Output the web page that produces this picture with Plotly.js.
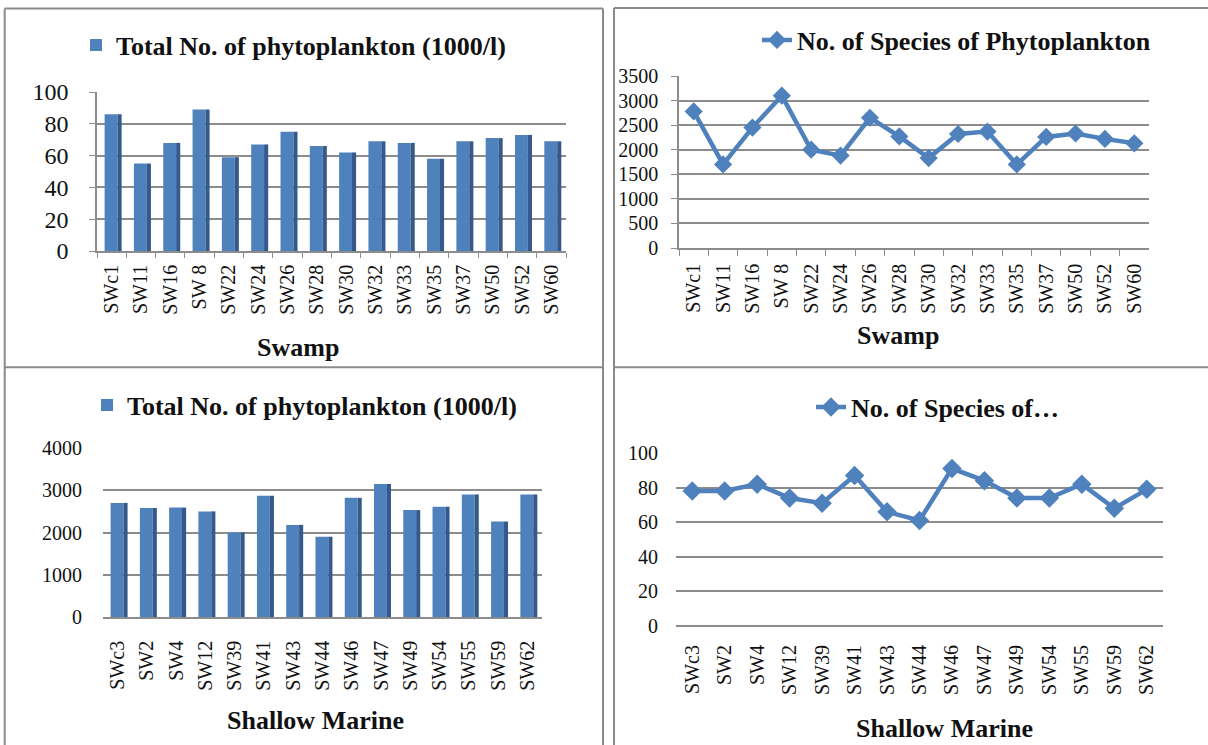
<!DOCTYPE html>
<html>
<head>
<meta charset="utf-8">
<script src="https://cdn.plot.ly/plotly-3.0.1.min.js"></script>
<style>
  html, body { margin: 0; padding: 0; background: #fff; }
  #chart { width: 1208px; height: 745px; }
</style>
</head>
<body>
<div id="chart"></div>
<script>
// Sampling stations
const swampSites = ['SWc1', 'SW11', 'SW16', 'SW 8', 'SW22', 'SW24', 'SW26', 'SW28',
                    'SW30', 'SW32', 'SW33', 'SW35', 'SW37', 'SW50', 'SW52', 'SW60'];
const marineSites = ['SWc3', 'SW2', 'SW4', 'SW12', 'SW39', 'SW41', 'SW43', 'SW44',
                     'SW46', 'SW47', 'SW49', 'SW54', 'SW55', 'SW59', 'SW62'];

// Swamp
const swampTotal = [86, 55, 68, 89, 59, 67, 75, 66, 62, 69, 68, 58, 69, 71, 73, 69];
const swampSpecies = [2780, 1700, 2450, 3100, 2000, 1880, 2650, 2270,
                      1830, 2320, 2370, 1700, 2260, 2330, 2220, 2130];

// Shallow marine
const marineTotal = [2700, 2580, 2590, 2500, 2000, 2870, 2180, 1900,
                     2820, 3150, 2530, 2610, 2900, 2260, 2900];
const marineSpecies = [78, 78, 82, 74, 71, 87, 66, 61, 91, 84, 74, 74, 82, 68, 79];

// Series names
const barName = 'Total No. of phytoplankton (1000/l)';
const lineName = 'No. of Species of Phytoplankton';
const lineNameShort = 'No. of Species of…';

// ---- page geometry (pixels -> paper fractions) ----
const W = 1208, H = 745;
const fx = px => px / W;
const fy = py => 1 - py / H;
const dx = (a, b) => [fx(a), fx(b)];
const dy = (top, bottom) => [fy(bottom), fy(top)];

const BLUE = '#4F81BD';
const BLUE_SIDE = '#34598A';
const GRID = '#8C8C8C';
const SERIF = 'Liberation Serif';

// Front face plus a darker side face give the columns some depth
function columns(x, y, xa, ya, legendId) {
  return [
    {
      type: 'bar', x: x, y: y, xaxis: xa, yaxis: ya, name: barName,
      legend: legendId, width: 0.44, offset: -0.24,
      marker: { color: BLUE, line: { width: 0 } },
      hoverinfo: 'x+y'
    },
    {
      type: 'bar', x: x, y: y, xaxis: xa, yaxis: ya, showlegend: false,
      width: 0.14, offset: 0.2,
      marker: { color: BLUE_SIDE, line: { width: 0 } },
      hoverinfo: 'skip'
    }
  ];
}

function species(x, y, xa, ya, legendId, name, size) {
  return {
    type: 'scatter', mode: 'lines+markers', x: x, y: y, xaxis: xa, yaxis: ya,
    name: name, legend: legendId,
    line: { color: BLUE, width: 4.5 },
    marker: { symbol: 'diamond', size: size, color: BLUE }
  };
}

const data = [
  ...columns(swampSites, swampTotal, 'x', 'y', 'legend'),
  species(swampSites, swampSpecies, 'x2', 'y2', 'legend2', lineName, 14),
  ...columns(marineSites, marineTotal, 'x3', 'y3', 'legend3'),
  species(marineSites, marineSpecies, 'x4', 'y4', 'legend4', lineNameShort, 15)
];

function catAxis(domain, n, extra) {
  return Object.assign({
    domain: domain, type: 'category', range: [-0.5, n - 0.5],
    tickangle: -90, showgrid: false, zeroline: false,
    showline: true, linecolor: GRID, linewidth: 1.5,
    tickfont: { family: SERIF, size: 20, color: '#111' },
    fixedrange: true
  }, extra || {});
}

function valAxis(domain, range, dtick, extra) {
  return Object.assign({
    domain: domain, range: range, dtick: dtick, tick0: 0,
    showgrid: true, gridcolor: GRID, gridwidth: 1.5,
    zeroline: false, showline: false,
    tickfont: { family: SERIF, size: 20, color: '#111' },
    fixedrange: true
  }, extra || {});
}

function legendAt(xpx, ypx) {
  return {
    x: fx(xpx), y: fy(ypx), xanchor: 'left', yanchor: 'middle',
    orientation: 'v', bgcolor: 'rgba(0,0,0,0)', borderwidth: 0,
    font: { family: SERIF, size: 26, color: '#111', weight: 'bold' },
    itemclick: false, itemdoubleclick: false
  };
}

function axisLabel(text, xpx, ypx) {
  return {
    text: text, xref: 'paper', yref: 'paper',
    x: fx(xpx), y: fy(ypx), xanchor: 'center', yanchor: 'middle',
    showarrow: false,
    font: { family: SERIF, size: 26, color: '#111', weight: 'bold' }
  };
}

function frameLine(x0, y0, x1, y1) {
  return {
    type: 'line', xref: 'paper', yref: 'paper',
    x0: fx(x0), y0: fy(y0), x1: fx(x1), y1: fy(y1),
    line: { color: '#8A8A8A', width: 2 }
  };
}

const layout = {
  width: W, height: H,
  margin: { l: 0, r: 0, t: 0, b: 0, pad: 0 },
  paper_bgcolor: '#ffffff', plot_bgcolor: 'rgba(0,0,0,0)',
  font: { family: SERIF },
  barmode: 'overlay',
  hovermode: 'closest',

  // Swamp: total phytoplankton
  xaxis: catAxis(dx(97, 566), swampSites.length, {
    anchor: 'y', ticks: 'outside', tickson: 'boundaries', ticklen: 5,
    tickcolor: GRID, ticklabelstandoff: 4
  }),
  yaxis: valAxis(dy(92, 251), [0, 100], 20, {
    anchor: 'x', showline: true, linecolor: GRID, linewidth: 1.5,
    ticks: 'outside', ticklen: 6, tickcolor: GRID, ticklabelstandoff: 16,
    tickfont: { family: SERIF, size: 24, color: '#111' }
  }),

  // Swamp: number of species
  xaxis2: catAxis(dx(679, 1149), swampSites.length, {
    anchor: 'y2', ticks: 'outside', tickson: 'boundaries', ticklen: 6,
    tickcolor: GRID, ticklabelstandoff: 6
  }),
  yaxis2: valAxis(dy(76, 248), [0, 3500], 500, {
    anchor: 'x2', showline: true, linecolor: GRID, linewidth: 1.5,
    ticks: 'outside', ticklen: 6, tickcolor: GRID, ticklabelstandoff: 9
  }),

  // Shallow marine: total phytoplankton
  xaxis3: catAxis(dx(103, 542), marineSites.length, {
    anchor: 'y3', ticks: '', ticklabelstandoff: 14
  }),
  yaxis3: valAxis(dy(448, 617), [0, 4000], 1000, {
    anchor: 'x3', ticks: '', ticklabelstandoff: 20
  }),

  // Shallow marine: number of species
  xaxis4: catAxis(dx(676, 1163), marineSites.length, {
    anchor: 'y4', ticks: '', showline: false, ticklabelstandoff: 14
  }),
  yaxis4: valAxis(dy(453, 626), [0, 100], 20, {
    anchor: 'x4', ticks: '', zeroline: true, zerolinecolor: GRID,
    zerolinewidth: 1.5, ticklabelstandoff: 17
  }),

  legend: legendAt(76, 45),
  legend2: legendAt(757, 40),
  legend3: legendAt(87, 405),
  legend4: legendAt(811, 407),

  annotations: [
    axisLabel('Swamp', 298, 347),
    axisLabel('Swamp', 898, 335),
    axisLabel('Shallow Marine', 315, 720),
    axisLabel('Shallow Marine', 944, 728)
  ],

  shapes: [
    frameLine(4.7, 8.5, 603, 8.5),
    frameLine(614, 8, 1208, 8),
    frameLine(4.7, 8.5, 4.7, 745),
    frameLine(603, 8.5, 603, 745),
    frameLine(614, 8, 614, 745),
    frameLine(4.7, 367.3, 603, 367.3),
    frameLine(614, 367.3, 1208, 367.3)
  ]
};

Plotly.newPlot('chart', data, layout, { displayModeBar: false });
</script>
</body>
</html>
